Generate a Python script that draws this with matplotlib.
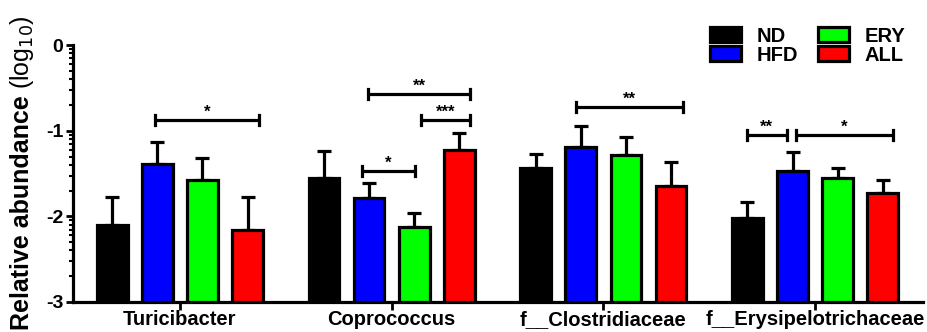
import numpy as np
import matplotlib
matplotlib.use('Agg')
import matplotlib.pyplot as plt
from matplotlib.patches import Patch

plt.rcParams['font.family'] = ['Liberation Sans', 'DejaVu Sans']

# data (log10 relative abundance, mean and upper error)
taxa   = ["Turicibacter", "Coprococcus", "f__Clostridiaceae", "f__Erysipelotrichaceae"]
groups = ["ND", "HFD", "ERY", "ALL"]
colors = ["#000000", "#0000ff", "#00ff00", "#ff0000"]

nd_mean  = [-2.10, -1.55, -1.44, -2.02]
hfd_mean = [-1.39, -1.79, -1.19, -1.47]
ery_mean = [-1.58, -2.12, -1.28, -1.55]
all_mean = [-2.16, -1.23, -1.64, -1.73]

nd_err  = [0.33, 0.31, 0.17, 0.19]
hfd_err = [0.26, 0.18, 0.24, 0.22]
ery_err = [0.26, 0.16, 0.21, 0.12]
all_err = [0.39, 0.20, 0.28, 0.15]

# significance brackets: x start, x end, height, label
sig_x0  = [-0.12, 0.886, 1.14, 0.862, 1.873, 2.676, 2.912]
sig_x1  = [0.375, 1.372, 1.372, 1.108, 2.374, 2.865, 3.366]
sig_y   = [-0.875, -0.57, -0.875, -1.47, -0.72, -1.05, -1.05]
sig_lab = ["*", "**", "***", "*", "**", "**", "*"]

means = [nd_mean, hfd_mean, ery_mean, all_mean]
errs  = [nd_err, hfd_err, ery_err, all_err]

fig = plt.figure(figsize=(9.28, 3.32), dpi=100)
ax = fig.add_axes([0.0787, 0.0904, 0.916, 0.7736])

x = np.arange(len(taxa))
step, width = 0.213, 0.145
for i, (m, e, c) in enumerate(zip(means, errs, colors)):
    xi = x + (i - 1.5) * step
    ax.bar(xi, np.array(m) + 3, width, bottom=-3, color=c, edgecolor="black",
           linewidth=2.3, zorder=3)
    ax.errorbar(xi, m, yerr=[np.zeros(len(e)), e], fmt="none", ecolor="black",
                elinewidth=2.3, capsize=5, capthick=2.3, zorder=2)

for x0, x1, y, lab in zip(sig_x0, sig_x1, sig_y, sig_lab):
    ax.plot([x0, x1], [y, y], color="black", lw=2.3, solid_capstyle="butt", zorder=4)
    for xe in (x0, x1):
        ax.plot([xe, xe], [y - 0.055, y + 0.055], color="black", lw=2.3, zorder=4)
    ax.text((x0 + x1) / 2, y + 0.0, lab, ha="center", va="bottom",
            fontsize=12, fontweight="bold")

ax.set_xlim(-0.505, 3.51)
ax.set_ylim(-3, 0)
ax.set_yticks([0, -1, -2, -3])
ax.set_yticklabels(["0", "-1", "-2", "-3"], fontsize=14, fontweight="bold")
minor = [np.log10(k) + p for p in (-3, -2, -1) for k in range(2, 10)]
ax.set_yticks(minor, minor=True)
ax.set_xticks(x)
ax.set_xticklabels(taxa, fontsize=14.5, fontweight="bold")
ax.tick_params(axis="y", which="major", length=5, width=2, pad=2)
ax.tick_params(axis="y", which="minor", length=3, width=1.5)
ax.tick_params(axis="x", length=6, width=2, pad=0)

for s in ("top", "right"):
    ax.spines[s].set_visible(False)
for s in ("left", "bottom"):
    ax.spines[s].set_linewidth(2.3)

# y label: bold part + normal-weight unit part
fig.canvas.draw()
r = fig.canvas.get_renderer()
t1 = fig.text(0.024, 0.005, "Relative abundance ", rotation=90, ha="center",
              va="bottom", fontsize=18, fontweight="bold")
bb = t1.get_window_extent(r).transformed(fig.transFigure.inverted())
fig.text(0.024, bb.y1, "(log$_{10}$)", rotation=90, ha="center", va="bottom",
         fontsize=18)

handles = [Patch(facecolor=c, edgecolor="black", linewidth=2.3, label=g)
           for g, c in zip(groups, colors)]
fig.legend(handles=handles, ncol=2, frameon=False, loc="upper left",
           bbox_to_anchor=(0.765, 0.92), prop={"weight": "bold", "size": 14.5},
           handlelength=1.55, handleheight=0.7, labelspacing=0.0,
           columnspacing=1.0, handletextpad=0.75, borderpad=0, borderaxespad=0)

fig.savefig("out.png", dpi=100)
